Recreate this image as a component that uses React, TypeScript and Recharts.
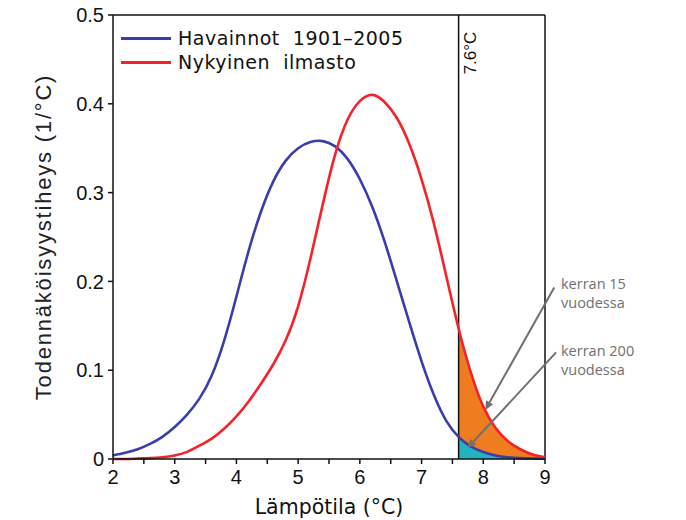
import React from "react";
import {
  ComposedChart,
  Line,
  Area,
  XAxis,
  YAxis,
  ReferenceLine,
} from "recharts";

// Lämpötilan todennäköisyysjakaumat: havainnot vs. nykyinen ilmasto.
// Oranssi = nykyilmaston häntä yli 7.6 °C, turkoosi = havaintojen häntä.

const TEMPS = [
  2.0, 2.2, 2.4, 2.6, 2.8, 3.0, 3.2, 3.4, 3.6, 3.8, 4.0, 4.2, 4.4, 4.6, 4.8, 5.0, 5.2, 5.4,
  5.6, 5.8, 6.0, 6.2, 6.4, 6.6, 6.8, 7.0, 7.2, 7.4, 7.6, 7.8, 8.0, 8.2, 8.4, 8.6, 8.8, 9.0,
];
const OBSERVED = [
  0.004, 0.007, 0.011, 0.017, 0.025, 0.036, 0.05, 0.068, 0.094, 0.133, 0.183, 0.235, 0.279,
  0.313, 0.336, 0.35, 0.357, 0.358, 0.352, 0.338, 0.315, 0.284, 0.245, 0.2, 0.154, 0.11,
  0.072, 0.043, 0.025, 0.014, 0.008, 0.004, 0.002, 0.001, 0.0005, 0.0002,
];
const CURRENT = [
  0, 0, 0.0005, 0.001, 0.002, 0.004, 0.008, 0.015, 0.023, 0.034, 0.048, 0.065, 0.085, 0.107,
  0.134, 0.172, 0.226, 0.287, 0.343, 0.382, 0.403, 0.41, 0.402, 0.384, 0.355, 0.315, 0.265,
  0.206, 0.147, 0.097, 0.059, 0.035, 0.02, 0.011, 0.005, 0.002,
];
const THRESHOLD = 7.6;
const X_TICKS = [2, 2.5, 3, 3.5, 4, 4.5, 5, 5.5, 6, 6.5, 7, 7.5, 8, 8.5, 9];
const Y_TICKS = [0, 0.1, 0.2, 0.3, 0.4, 0.5];

// annotation arrows, in data units: [x1, y1, x2, y2]
const ARROW_15 = [9.15, 0.193, 8.03, 0.055];
const ARROW_200 = [9.18, 0.12, 7.74, 0.012];

const BLUE = "#3a3dab";
const RED = "#f5222a";
const ORANGE = "#ee7d1f";
const TEAL = "#22b3bf";
const GREY = "#707070";
const TICK_FONT = "'Liberation Sans', Arial, sans-serif";
const TITLE_FONT = "'DejaVu Sans', sans-serif";

const data = TEMPS.map((t, i) => ({
  t,
  observed: OBSERVED[i],
  current: CURRENT[i],
  currentTail: t >= THRESHOLD ? CURRENT[i] : null,
  observedTail: t >= THRESHOLD ? OBSERVED[i] : null,
}));

function Arrow(props: any) {
  const { x1, y1, x2, y2 } = props;
  const ang = Math.atan2(y2 - y1, x2 - x1);
  const len = 9;
  const w = 4;
  const bx = x2 - len * Math.cos(ang);
  const by = y2 - len * Math.sin(ang);
  const px = -Math.sin(ang) * w;
  const py = Math.cos(ang) * w;
  return (
    <g>
      <line x1={x1} y1={y1} x2={bx} y2={by} stroke={GREY} strokeWidth={2} />
      <polygon
        points={`${x2},${y2} ${bx + px},${by + py} ${bx - px},${by - py}`}
        fill={GREY}
      />
    </g>
  );
}

function LegendBox() {
  const rows = [
    { color: BLUE, text: "Havainnot  1901–2005" },
    { color: RED, text: "Nykyinen  ilmasto" },
  ];
  return (
    <div
      style={{
        position: "absolute",
        left: 121,
        top: 26,
        fontFamily: TITLE_FONT,
        fontSize: 19,
        letterSpacing: 0.5,
        color: "#111",
      }}
    >
      {rows.map((r) => (
        <div key={r.text} style={{ display: "flex", alignItems: "center", height: 24 }}>
          <span style={{ width: 50, height: 3, background: r.color, marginRight: 7 }} />
          <span style={{ whiteSpace: "pre" }}>{r.text}</span>
        </div>
      ))}
    </div>
  );
}

const noteStyle: React.CSSProperties = {
  position: "absolute",
  left: 561,
  fontFamily: "'Open Sans', sans-serif",
  fontSize: 14.5,
  lineHeight: "19px",
  color: GREY,
};

export default function App() {
  return (
    <div style={{ position: "absolute", left: 0, top: 0, width: 686, height: 520, background: "#fff" }}>
      <ComposedChart
        width={686}
        height={520}
        data={data}
        margin={{ top: 15, right: 141, bottom: 31, left: 53 }}
      >
        <XAxis
          dataKey="t"
          type="number"
          domain={[2, 9]}
          ticks={X_TICKS}
          interval={0}
          height={30}
          tickSize={5}
          tickMargin={6}
          tickFormatter={(v) => (Number.isInteger(v) ? String(v) : "")}
          tick={{ fill: "#111", fontSize: 20, fontFamily: TICK_FONT }}
          stroke="#111"
          strokeWidth={1.5}
          label={{
            value: "Lämpötila  (°C)",
            position: "insideBottom",
            offset: -25,
            style: { fill: "#111", fontSize: 20.5, fontFamily: TITLE_FONT },
          }}
        />
        <YAxis
          type="number"
          domain={[0, 0.5]}
          ticks={Y_TICKS}
          width={60}
          tickSize={5}
          tickMargin={4}
          tickFormatter={(v) => (v === 0 ? "0" : Number(v).toFixed(1))}
          tick={{ fill: "#111", fontSize: 20, fontFamily: TICK_FONT }}
          stroke="#111"
          strokeWidth={1.5}
          label={{
            value: "Todennäköisyystiheys  (1/°C)",
            angle: -90,
            position: "insideLeft",
            offset: -10,
            style: {
              fill: "#222",
              fontSize: 22,
              fontFamily: TICK_FONT,
              letterSpacing: 1.8,
              textAnchor: "middle",
            },
          }}
        />
        <Area
          type="natural"
          dataKey="currentTail"
          fill={ORANGE}
          fillOpacity={1}
          stroke="none"
          isAnimationActive={false}
        />
        <Area
          type="natural"
          dataKey="observedTail"
          fill={TEAL}
          fillOpacity={1}
          stroke="none"
          isAnimationActive={false}
        />
        <ReferenceLine y={0.5} stroke="#111" strokeWidth={1.5} />
        <ReferenceLine x={9} stroke="#111" strokeWidth={1.5} />
        <ReferenceLine
          x={THRESHOLD}
          stroke="#111"
          strokeWidth={1.5}
          label={(p: any) => {
            const vb = p.viewBox;
            const cx = vb.x + 12;
            const cy = vb.y + 38;
            return (
              <text
                x={cx}
                y={cy}
                transform={`rotate(-90 ${cx} ${cy})`}
                textAnchor="middle"
                dominantBaseline="central"
                fontSize={17}
                fontFamily={TICK_FONT}
                fill="#111"
              >
                7.6°C
              </text>
            );
          }}
        />
        <Line
          type="natural"
          dataKey="observed"
          stroke={BLUE}
          strokeWidth={2.6}
          dot={false}
          isAnimationActive={false}
        />
        <Line
          type="natural"
          dataKey="current"
          stroke={RED}
          strokeWidth={2.6}
          dot={false}
          isAnimationActive={false}
        />
        <ReferenceLine
          ifOverflow="visible"
          segment={[
            { x: ARROW_15[0], y: ARROW_15[1] },
            { x: ARROW_15[2], y: ARROW_15[3] },
          ]}
          shape={Arrow}
        />
        <ReferenceLine
          ifOverflow="visible"
          segment={[
            { x: ARROW_200[0], y: ARROW_200[1] },
            { x: ARROW_200[2], y: ARROW_200[3] },
          ]}
          shape={Arrow}
        />
      </ComposedChart>
      <LegendBox />
      <div style={{ ...noteStyle, top: 274 }}>
        kerran 15
        <br />
        vuodessa
      </div>
      <div style={{ ...noteStyle, top: 341 }}>
        kerran 200
        <br />
        vuodessa
      </div>
    </div>
  );
}
